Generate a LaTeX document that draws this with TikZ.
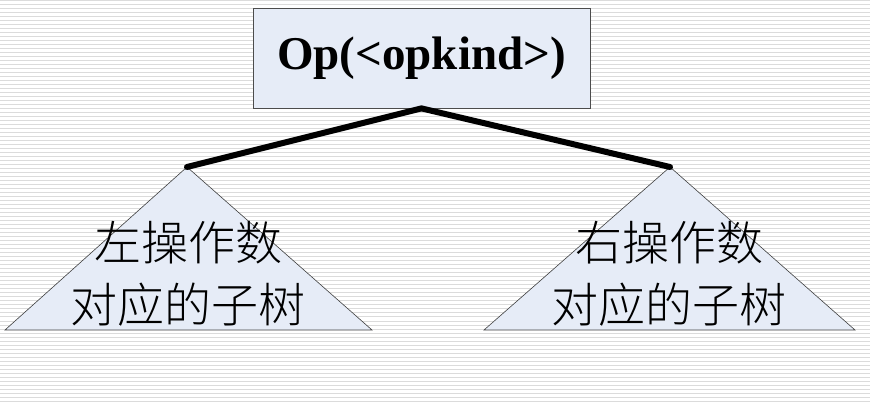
\documentclass[tikz,border=0pt]{standalone}
\usepackage{fontspec}
\setmainfont{Liberation Serif}
\newfontfamily\cjk{Noto Sans CJK SC Light}
\definecolor{paleblue}{RGB}{230,236,247}
\begin{document}
\begin{tikzpicture}[x=1pt,y=-1pt,
  opbox/.style={draw=black!70,fill=paleblue,line width=0.8pt,minimum width=337pt,minimum height=100pt,inner sep=0pt,font=\fontsize{47}{56}\selectfont\bfseries},
  subtree/.style={draw=black!75,fill=paleblue,line width=0.6pt},
  treelabel/.style={align=center,font=\cjk\fontsize{47}{62}\selectfont,inner sep=0pt},
  branch/.style={line width=6pt,line cap=round,black}]
\useasboundingbox (0,0) rectangle (870,403);
\fill[white] (0,0) rectangle (870,403);
\foreach \y in {1,5,...,403} {\draw[black!14,line width=1pt] (0,\y) -- (870,\y);}
\node[opbox] (op) at (421.5,58) {Op(<opkind>)};
\coordinate (la) at (187,167);
\coordinate (ra) at (670,167);
\filldraw[subtree] (la) -- (5,330) -- (372,330) -- cycle;
\filldraw[subtree] (ra) -- (484,330) -- (855,330) -- cycle;
\draw[branch] (la) -- (op.south) -- (ra);
\node[treelabel] (lt) at (188,274) {左操作数\\对应的子树};
\node[treelabel] (rt) at (669,274) {右操作数\\对应的子树};
\end{tikzpicture}
\end{document}
